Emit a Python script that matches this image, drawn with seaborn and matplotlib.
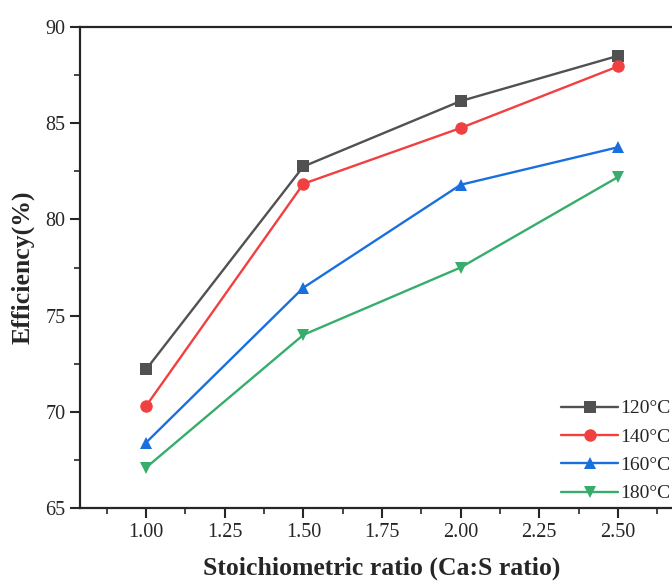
import pandas as pd
import seaborn as sns
import matplotlib.pyplot as plt
from matplotlib.ticker import MultipleLocator

# data
ratio = [1.00, 1.50, 2.00, 2.50]
temps = ['120°C', '140°C', '160°C', '180°C']
eff_120 = [72.2, 82.75, 86.15, 88.5]
eff_140 = [70.3, 81.85, 84.75, 87.95]
eff_160 = [68.4, 76.45, 81.8, 83.75]
eff_180 = [67.1, 74.0, 77.5, 82.2]

colors = ['#515151', '#F14040', '#1A6FDF', '#37AD6B']
markers = ['s', 'o', '^', 'v']

rows = []
for t, vals in zip(temps, [eff_120, eff_140, eff_160, eff_180]):
    for r, v in zip(ratio, vals):
        rows.append({'ratio': r, 'eff': v, 'temp': t})
df = pd.DataFrame(rows)

sns.set_style('ticks')
plt.rcParams['font.family'] = ['Liberation Serif', 'DejaVu Serif']

fig = plt.figure(figsize=(6.72, 5.83), dpi=100)
# axes runs past the right edge of the figure (the original is cropped)
ax = fig.add_axes([80 / 672, 75 / 583, 604 / 672, 481 / 583])

sns.lineplot(data=df, x='ratio', y='eff', hue='temp', style='temp',
             hue_order=temps, style_order=temps, palette=colors,
             markers=markers, dashes=False, markersize=9,
             markeredgewidth=0, linewidth=1.7, ax=ax)

ax.set_xlim(0.79, 2.71)
ax.set_ylim(65, 90)
ax.xaxis.set_minor_locator(MultipleLocator(0.125))
ax.yaxis.set_major_locator(MultipleLocator(5))
ax.yaxis.set_minor_locator(MultipleLocator(2.5))
ax.set_xticks([1.0, 1.25, 1.5, 1.75, 2.0, 2.25, 2.5])
ax.set_xticklabels(['1.00', '1.25', '1.50', '1.75', '2.00', '2.25', '2.50'])

ax.tick_params(which='major', direction='out', length=7, width=1.5, labelsize=14.5)
ax.tick_params(which='minor', direction='out', length=4, width=1.2)
for s in ax.spines.values():
    s.set_linewidth(1.6)
ax.spines['right'].set_visible(False)

ax.set_xlabel('Stoichiometric ratio (Ca:S ratio)', fontsize=18.5, fontweight='bold', labelpad=11)
ax.set_ylabel('Efficiency(%)', fontsize=18.5, fontweight='bold', labelpad=8)

ax.legend(title=None, frameon=False, fontsize=14, loc='lower right',
          bbox_to_anchor=(1.0, 0.135), bbox_transform=fig.transFigure,
          handlelength=2.9, labelspacing=0.55, handletextpad=0.1,
          borderaxespad=0, borderpad=0.1, markerscale=1.0)

plt.savefig('out.png', dpi=100)
